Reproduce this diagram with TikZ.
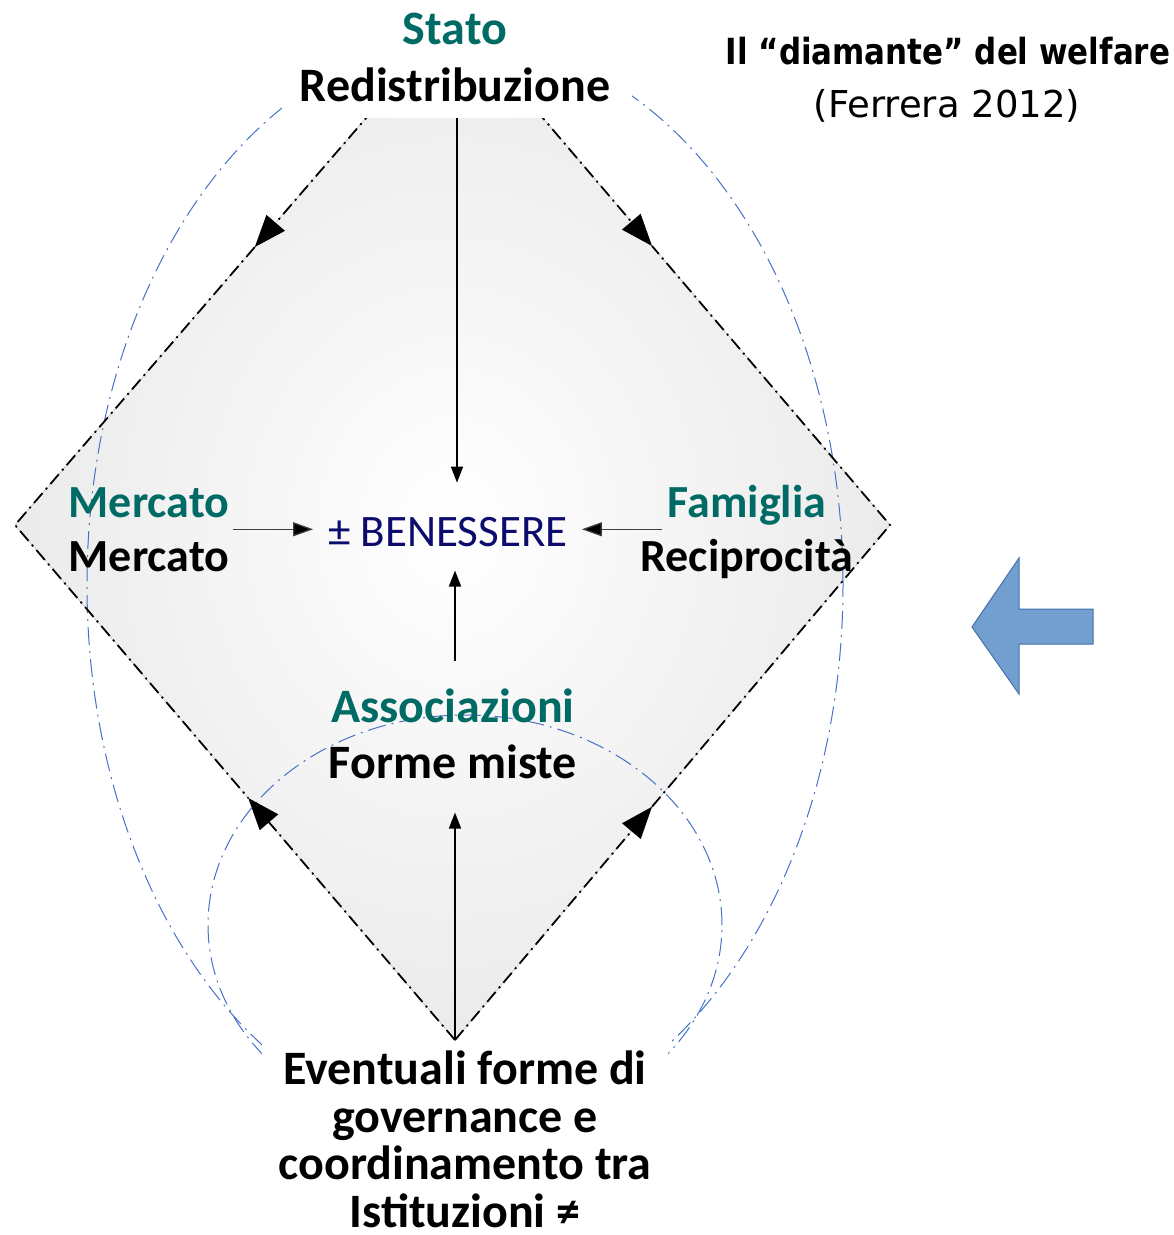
\documentclass[tikz,border=0pt]{standalone}
\usepackage{fontspec}
\setmainfont{Carlito}
\newfontfamily\titlefont[FakeStretch=0.86]{DejaVu Sans}
\newfontfamily\refsfont{DejaVu Sans}
\usetikzlibrary{arrows.meta,calc,positioning}
\definecolor{labelteal}{RGB}{0,107,101}
\definecolor{benenavy}{RGB}{12,12,110}
\definecolor{ovalblue}{RGB}{68,114,196}
\definecolor{arrowfill}{RGB}{114,159,207}
\definecolor{arrowline}{RGB}{65,113,170}

\begin{document}
\begin{tikzpicture}[x=1pt, y=-1pt,
    every node/.style={inner sep=0pt},
    whitebox/.style={fill=white, draw=none},
    corner/.style={align=center, anchor=base, font=\fontsize{46}{54}\selectfont\bfseries},
    edgeline/.style={line width=1.8pt, dash pattern=on 13pt off 5pt on 2pt off 5pt},
    edgetip/.style={edgeline, -{Triangle[length=32pt,width=24pt]}},
    mainarr/.style={line width=1.6pt, -{Triangle[length=16pt,width=12pt]}},
    sidearr/.style={line width=1.2pt, draw=black!75, -{Triangle[length=20pt,width=14pt,fill=black]}},
    oval/.style={draw=ovalblue, line width=1pt, dash pattern=on 18pt off 6pt on 2pt off 6pt}
    ]
\useasboundingbox (0,0) rectangle (1174,1235);
% corners of the diamond
\coordinate (T) at (455,15);
\coordinate (L) at (15,525);
\coordinate (R) at (890,525);
\coordinate (B) at (455,1040);
\coordinate (tl) at ($(T)!0.455!(L)$);
\coordinate (tr) at ($(T)!0.453!(R)$);
\coordinate (bl) at ($(B)!0.47!(L)$);
\coordinate (br) at ($(B)!0.453!(R)$);

\fill[inner color=white, outer color=black!8] (T) -- (R) -- (B) -- (L) -- cycle;
\draw[oval] (465,585) ellipse [x radius=378pt, y radius=545pt];
\draw[oval] (465,925) ellipse [x radius=257pt, y radius=210pt];

\draw[edgetip] (T) -- (tl);
\draw[edgeline] (tl) -- (L) -- (bl);
\draw[edgetip] (B) -- (bl);
\draw[edgetip] (B) -- (br);
\draw[edgeline] (br) -- (R) -- (tr);
\draw[edgetip] (T) -- (tr);

% white boxes on top and bottom
\node[whitebox, minimum width=350, minimum height=118] (statobox) at (457,59) {};
\node[whitebox, minimum width=406, minimum height=192] (govbox) at (465,1138) {};

\node[corner, font=\fontsize{48}{57}\selectfont\bfseries] (stato) at (455,101)
    {\textcolor{labelteal}{Stato}\\Redistribuzione};
\node[corner] (mercato) at (149,571) {\textcolor{labelteal}{Mercato}\\Mercato};
\node[corner] (famiglia) at (747,571) {\textcolor{labelteal}{Famiglia}\\Reciprocità};
\node[corner, font=\fontsize{48}{56}\selectfont\bfseries] (assoc) at (453,778)
    {\textcolor{labelteal}{Associazioni}\\Forme miste};
\node[anchor=base, text=benenavy, font=\fontsize{45}{50}\selectfont] (benessere) at (448,546)
    {± BENESSERE};
\node[corner, font=\fontsize{48}{47.5}\selectfont\bfseries] (govern) at (465,1227)
    {Eventuali forme di\\governance e\\coordinamento tra\\Istituzioni ≠};

\node[anchor=base, font=\titlefont\fontsize{36}{44}\selectfont\bfseries] (title) at (948,64)
    {Il “diamante” del welfare};
\node[anchor=base, font=\refsfont\fontsize{37}{44}\selectfont] (ferrera) at (947,117)
    {(Ferrera 2012)};

\fill[arrowfill, draw=arrowline, line width=1pt] (972,627) -- (1019,558) -- (1019,609)
    -- (1093,609) -- (1093,644) -- (1019,644) -- (1019,694) -- cycle;

\draw[mainarr, shorten >=34pt] (statobox.south) -- (statobox.south |- benessere.north);
\draw[sidearr, shorten <=4pt, shorten >=15pt] (mercato.east) -- (mercato.east -| benessere.west);
\draw[sidearr, shorten <=-22pt, shorten >=14pt] (famiglia.west |- mercato.east)
    -- (benessere.east |- mercato.east);
\draw[mainarr, shorten <=27pt, shorten >=24pt] (B |- assoc.north) -- (B |- benessere.south);
\draw[mainarr, shorten >=34pt] (B) -- (B |- assoc.south);
\end{tikzpicture}
\end{document}
